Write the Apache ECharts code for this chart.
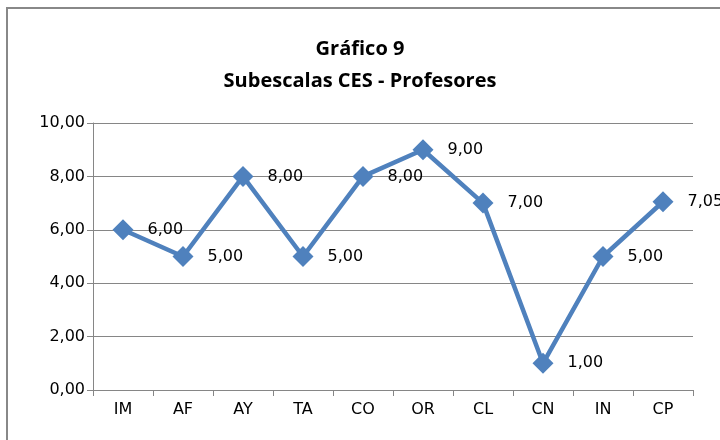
<!DOCTYPE html>
<html><head><meta charset="utf-8">
<script src="https://cdn.jsdelivr.net/npm/echarts@6/dist/echarts.min.js"></script>
<style>html,body{margin:0;padding:0;background:#fff}#c{width:720px;height:440px}</style>
</head><body><div id="c"></div>
<script>
const titleLines = ['Gráfico 9', 'Subescalas CES - Profesores'];
const categories = ['IM','AF','AY','TA','CO','OR','CL','CN','IN','CP'];
const values = [6.00, 5.00, 8.00, 5.00, 8.00, 9.00, 7.00, 1.00, 5.00, 7.05];
const yMin = 0, yMax = 10, yStep = 2;

const fmt = v => v.toFixed(2).replace('.', ',');
const chart = echarts.init(document.getElementById('c'));
chart.setOption({
  animation: false,
  backgroundColor: '#fff',
  graphic: [{
    type: 'rect', shape: {x: 7, y: 8, width: 730, height: 450},
    style: {fill: 'none', stroke: '#888888', lineWidth: 2}, silent: true
  }],
  title: {
    text: titleLines.join('\n'), left: 'center', top: 28,
    textStyle: {fontFamily: 'Open Sans', fontWeight: 'bold', fontSize: 20, color: '#000', lineHeight: 32}
  },
  grid: {left: 93, right: 27, top: 123, bottom: 50},
  xAxis: {
    type: 'category', data: categories, boundaryGap: true,
    axisLine: {lineStyle: {color: '#868686', width: 1}},
    axisTick: {show: true, length: 6, lineStyle: {color: '#868686'}},
    axisLabel: {fontFamily: 'DejaVu Sans', fontSize: 16, color: '#000', margin: 12}
  },
  yAxis: {
    type: 'value', min: yMin, max: yMax, interval: yStep,
    axisLine: {show: true, lineStyle: {color: '#868686', width: 1}},
    axisTick: {show: true, length: 6, lineStyle: {color: '#868686'}},
    splitLine: {lineStyle: {color: '#868686', width: 1}},
    axisLabel: {fontFamily: 'DejaVu Sans', fontSize: 16, color: '#000', margin: 8, formatter: v => fmt(v)}
  },
  series: [{
    type: 'line', data: values,
    symbol: 'diamond', symbolSize: 21,
    lineStyle: {color: '#4F81BD', width: 4.5},
    itemStyle: {color: '#4F81BD'},
    label: {show: true, position: 'right', distance: 14, fontFamily: 'DejaVu Sans', fontSize: 16, color: '#000',
      formatter: p => fmt(p.value)}
  }]
});
</script></body></html>
